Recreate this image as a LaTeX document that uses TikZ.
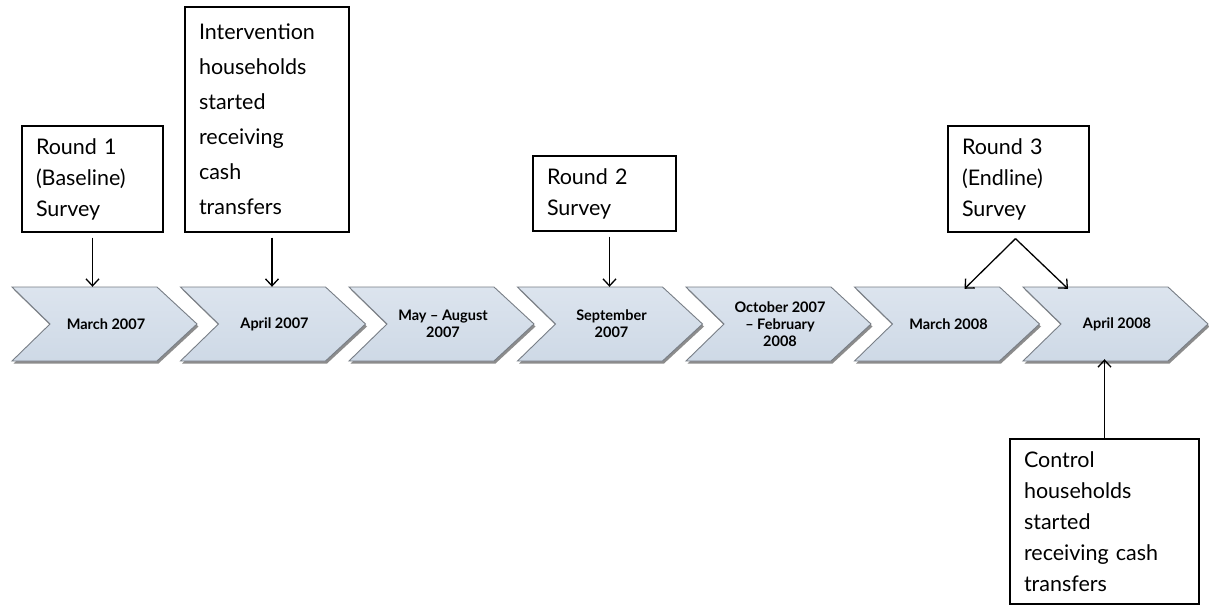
\documentclass[tikz,border=0pt]{standalone}
\usepackage{fontspec}
\setmainfont{Lato}
\usetikzlibrary{arrows.meta,shadows}
\definecolor{chevfill}{RGB}{206,217,230}
\definecolor{chevtop}{RGB}{220,228,238}
\definecolor{chevline}{RGB}{120,126,134}
\tikzset{
  x=1pt,y=-1pt,
  chevshape/.style={top color=chevtop,bottom color=chevfill,draw=chevline,line width=0.9pt,line join=miter,
    drop shadow={shadow xshift=1.5pt,shadow yshift=-2.5pt,opacity=0.6,fill=black!75}},
  chevlabel/.style={minimum width=110pt,minimum height=74pt,inner sep=0pt,align=center,
    font=\fontsize{14.5}{17}\selectfont\bfseries},
  evbox/.style={draw=black,line width=1.3pt,inner xsep=14pt,inner ysep=0pt,align=left,
    font=\fontsize{21.5}{31}\selectfont},
  evarrow/.style={line width=1.3pt,-{Straight Barb[length=7pt,width=13pt,line width=1.3pt]}}
}
\begin{document}
\begin{tikzpicture}
\useasboundingbox[fill=white] (0,0) rectangle (1209,607);
% chevrons
\foreach \L in {12,180.5,349,517.5,686,854.5,1023}{
  \path[chevshape] (\L,287) -- (\L+145,287) -- (\L+185,324) -- (\L+145,361) -- (\L,361) -- (\L+38,324) -- cycle;
}
\node[chevlabel] (c1) at (106,324) {March 2007};
\node[chevlabel] (c2) at (274.5,324) {April 2007};
\node[chevlabel] (c3) at (443,324) {May -- August\\2007};
\node[chevlabel] (c4) at (611.5,324) {September\\2007};
\node[chevlabel] (c5) at (780,324) {October 2007\\-- February\\2008};
\node[chevlabel] (c6) at (948.5,324) {March 2008};
\node[chevlabel] (c7) at (1117,324) {April 2008};
% event boxes
\node[evbox,text width=113pt,minimum height=106pt] (b1) at (92.5,179) {Round 1\\(Baseline)\\Survey};
\node[evbox,text width=136pt,minimum height=225pt,font=\fontsize{21.5}{35}\selectfont] (b2) at (267,119.5)
  {Intervention\\households\\started\\receiving\\cash\\transfers};
\node[evbox,text width=115pt,minimum height=75pt] (b3) at (604.5,193.5) {Round 2\\Survey};
\node[evbox,text width=113pt,minimum height=106pt] (b4) at (1018.5,179) {Round 3\\(Endline)\\Survey};
\node[evbox,text width=161pt,minimum height=165pt] (b5) at (1104.5,521.5)
  {Control\\households\\started\\receiving cash\\transfers};
% connectors
\draw[evarrow] ([yshift=-5pt]b1.south) -- (b1.south |- c1.north);
\draw[evarrow] ([xshift=5pt,yshift=-5pt]b2.south) -- ([xshift=5pt]b2.south |- c2.north);
\draw[evarrow] ([xshift=5pt,yshift=-5pt]b3.south) -- ([xshift=5pt]b3.south |- c4.north);
\coordinate (r3) at ([xshift=-3pt,yshift=-6pt]b4.south);
\draw[evarrow] (r3) -- ([xshift=16pt,yshift=-2pt]c6.north);
\draw[evarrow] (r3) -- ([xshift=-49pt,yshift=-2pt]c7.north);
\draw[evarrow] (b5.north) -- ([yshift=2pt]b5.north |- c7.south);
\end{tikzpicture}
\end{document}
